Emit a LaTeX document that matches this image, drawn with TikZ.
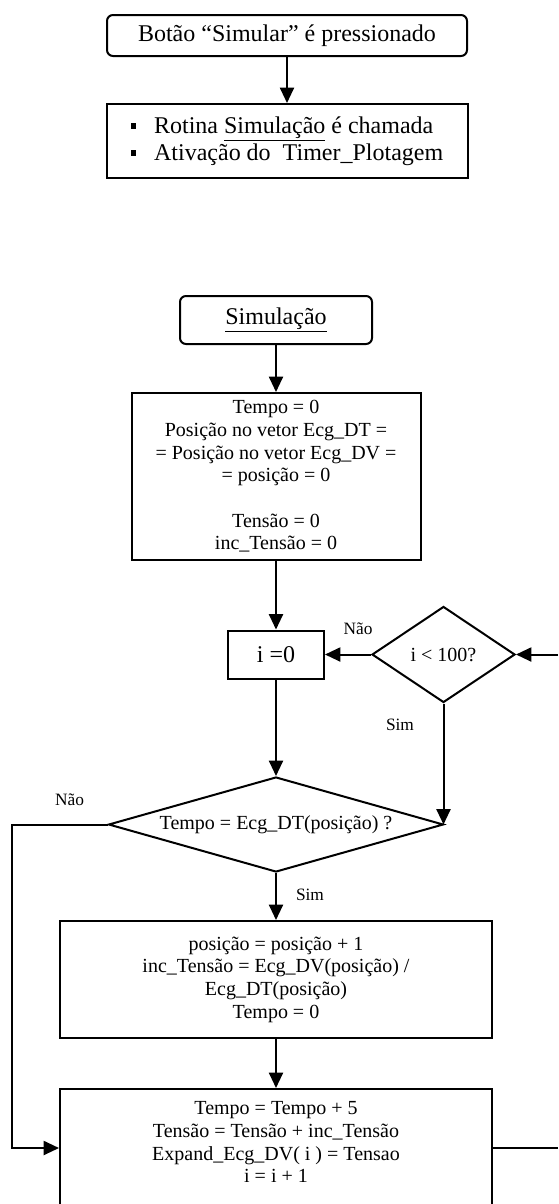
\documentclass[tikz,border=0pt]{standalone}
\usepackage{fontspec}
\setmainfont{Liberation Serif}
\usetikzlibrary{arrows.meta,shapes.geometric}
\begin{document}
\begin{tikzpicture}[x=0.75pt,y=-0.75pt,
  every node/.style={inner sep=0pt},
  box/.style={draw,line width=1.5pt,rectangle,align=center,font=\fontsize{15pt}{17pt}\selectfont},
  rbox/.style={box,rounded corners=4.5pt,font=\fontsize{18pt}{20pt}\selectfont},
  dec/.style={draw,line width=1.5pt,diamond,font=\fontsize{15pt}{17pt}\selectfont},
  lbl/.style={font=\fontsize{13pt}{15pt}\selectfont},
  arr/.style={line width=1.5pt,-{Triangle[length=11.5pt,width=10.5pt]}},
  ln/.style={line width=1.5pt}]
\clip (0,0) rectangle (558,1204);
% nodes
\node[rbox, minimum width=270pt, minimum height=30.75pt] (top) at (287,35.5) {Botão “Simular” é pressionado};
\node[box, font=\fontsize{18pt}{20.25pt}\selectfont, align=left, minimum width=270.75pt, minimum height=55.5pt] (b2) at (287,141)
  {\rule[3.4pt]{4pt}{4pt}\hspace{13.5pt}Rotina \underline{Simulação} é chamada\\\rule[3.4pt]{4pt}{4pt}\hspace{13.5pt}Ativação do\ \ Timer\_Plotagem};
\node[rbox, minimum width=144pt, minimum height=36pt] (sim) at (276,320) {\underline{Simulação}};
\node[box, minimum width=216.75pt, minimum height=125.25pt] (b3) at (276,476.5)
  {Tempo = 0\\Posição no vetor Ecg\_DT =\\= Posição no vetor Ecg\_DV =\\= posição = 0\\[17pt]Tensão = 0\\inc\_Tensão = 0};
\node[box, font=\fontsize{18pt}{20pt}\selectfont, minimum width=72pt, minimum height=36pt] (i0) at (276,654.5) {i =0};
\node[dec, aspect=1.49, minimum width=107.25pt, minimum height=72pt] (d1) at (443.5,654.5) {i < 100?};
\node[dec, aspect=3.53, minimum width=251.25pt, minimum height=71.25pt] (d2) at (276,824.5) {Tempo = Ecg\_DT(posição) ?\hspace{12pt}};
\node[box, minimum width=324pt, minimum height=87.75pt] (b4) at (276,979.5)
  {posição = posição + 1\\inc\_Tensão = Ecg\_DV(posição) /\\Ecg\_DT(posição)\\Tempo = 0};
\node[box, anchor=north, minimum width=324pt, minimum height=112pt] (b5) at (276,1088)
  {\parbox[t][106pt][t]{320pt}{\centering\vspace*{6.5pt}Tempo = Tempo + 5\\Tensão = Tensão + inc\_Tensão\\Expand\_Ecg\_DV( i ) = Tensao\\i = i + 1}};
% labels
\node[lbl] (n1) at (358,628.5) {Não};
\node[lbl] (s1) at (400,725) {Sim};
\node[lbl] (n2) at (69.5,800) {Não};
\node[lbl] (s2) at (310,895) {Sim};
% free ends
\coordinate (rin) at (558,654.5);
\coordinate (L) at (12,1148);
\coordinate (R) at (558,1148);
% connectors
\draw[arr] (top) -- (b2);
\draw[arr] (sim) -- (b3);
\draw[arr] (b3) -- (i0);
\draw[arr] (i0) -- (d2);
\draw[arr] (d1) -- (i0);
\draw[arr] (rin) -- (d1.east);
\draw[arr] (d1.south) -- (d1.south |- d2.east);
\draw[arr] (d2.west) -| (L) -- (L -| b5.west);
\draw[arr] (d2) -- (b4);
\draw[arr] (b4) -- (b5);
\draw[ln] (R -| b5.east) -- (R);
\end{tikzpicture}
\end{document}
